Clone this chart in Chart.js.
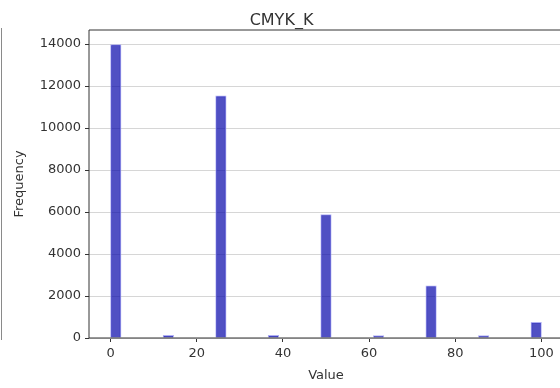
<!DOCTYPE html>
<html>
<head>
<meta charset="utf-8">
<script src="https://cdn.jsdelivr.net/npm/chart.js@4/dist/chart.umd.min.js"></script>
<style>
  html, body { margin: 0; padding: 0; background: #fff; overflow: hidden; }
  body { width: 560px; height: 388px; position: relative; }
  #wrap { position: absolute; left: 0; top: 0; width: 576px; height: 388px; }
  #edge { position: absolute; left: 1px; top: 28px; width: 1px; height: 312px; background: #8a8a8a; }
</style>
</head>
<body>
<div id="wrap"><canvas id="c"></canvas></div>
<div id="edge"></div>
<script>
// Histogram of the K channel: 41 equal bins over 0..100
const binCenters = [
  1.2195, 3.6585, 6.0976, 8.5366, 10.9756, 13.4146, 15.8537, 18.2927, 20.7317, 23.1707,
  25.6098, 28.0488, 30.4878, 32.9268, 35.3659, 37.8049, 40.2439, 42.6829, 45.1220, 47.5610,
  50.0000, 52.4390, 54.8780, 57.3171, 59.7561, 62.1951, 64.6341, 67.0732, 69.5122, 71.9512,
  74.3902, 76.8293, 79.2683, 81.7073, 84.1463, 86.5854, 89.0244, 91.4634, 93.9024, 96.3415,
  98.7805
];
const counts = [
  13970, 0, 0, 0, 0, 130, 0, 0, 0, 0,
  11530, 0, 0, 0, 0, 130, 0, 0, 0, 0,
  5880, 0, 0, 0, 0, 120, 0, 0, 0, 0,
  2490, 0, 0, 0, 0, 120, 0, 0, 0, 0,
  750
];
const xTicks = [0, 20, 40, 60, 80, 100];
const yTicks = [0, 2000, 4000, 6000, 8000, 10000, 12000, 14000];

const textColor = '#333333';
const font = { family: 'DejaVu Sans', size: 13 };

// axes frame drawn over the bars
const frame = {
  id: 'frame',
  afterDatasetsDraw(chart) {
    const { ctx, chartArea: a } = chart;
    ctx.save();
    ctx.strokeStyle = '#333333';
    ctx.lineWidth = 1;
    ctx.beginPath();
    ctx.moveTo(a.left, a.top);
    ctx.lineTo(a.right, a.top);
    ctx.lineTo(a.right, a.bottom);
    ctx.lineTo(a.left, a.bottom);
    ctx.closePath();
    ctx.stroke();
    ctx.restore();
  }
};

new Chart(document.getElementById('c'), {
  type: 'bar',
  data: {
    datasets: [{
      data: binCenters.map((x, i) => ({ x: x, y: counts[i] })),
      backgroundColor: 'rgba(5, 5, 170, 0.7)',
      borderColor: 'rgba(160, 160, 240, 0.85)',
      borderWidth: 1,
      barPercentage: 1,
      categoryPercentage: 1
    }]
  },
  options: {
    responsive: true,
    maintainAspectRatio: false,
    animation: false,
    devicePixelRatio: 1,
    layout: { padding: { top: 0, right: 13, bottom: 0, left: 0 } },
    plugins: {
      legend: { display: false },
      tooltip: { enabled: false },
      title: {
        display: true,
        text: 'CMYK_K',
        color: textColor,
        font: { family: 'DejaVu Sans', size: 16, weight: 'normal', lineHeight: 1.1 },
        padding: { top: 12.4, bottom: 0 }
      }
    },
    scales: {
      x: {
        type: 'linear',
        min: -5,
        max: 105,
        offset: false,
        afterBuildTicks(scale) { scale.ticks = xTicks.map(v => ({ value: v })); },
        afterFit(scale) { scale.height = 50; },
        border: { display: false },
        grid: { display: true, offset: false, drawOnChartArea: false, drawTicks: true, tickLength: 4, tickColor: '#333333' },
        ticks: { color: textColor, font: font, padding: 4, maxRotation: 0, callback: v => String(v) },
        title: { display: true, text: 'Value', color: textColor, font: font, padding: { top: 0, bottom: 5 } }
      },
      y: {
        min: 0,
        max: 14668,
        afterBuildTicks(scale) { scale.ticks = yTicks.map(v => ({ value: v })); },
        afterFit(scale) { scale.width = 89; },
        border: { display: false },
        grid: { color: '#d6d6d6', lineWidth: 1, drawTicks: true, tickLength: 4, tickColor: '#333333' },
        ticks: { color: textColor, font: font, padding: 4, callback: v => String(v) },
        title: { display: true, text: 'Frequency', color: textColor, font: font, padding: { top: 12, bottom: 0 } }
      }
    }
  },
  plugins: [frame]
});
</script>
</body>
</html>
